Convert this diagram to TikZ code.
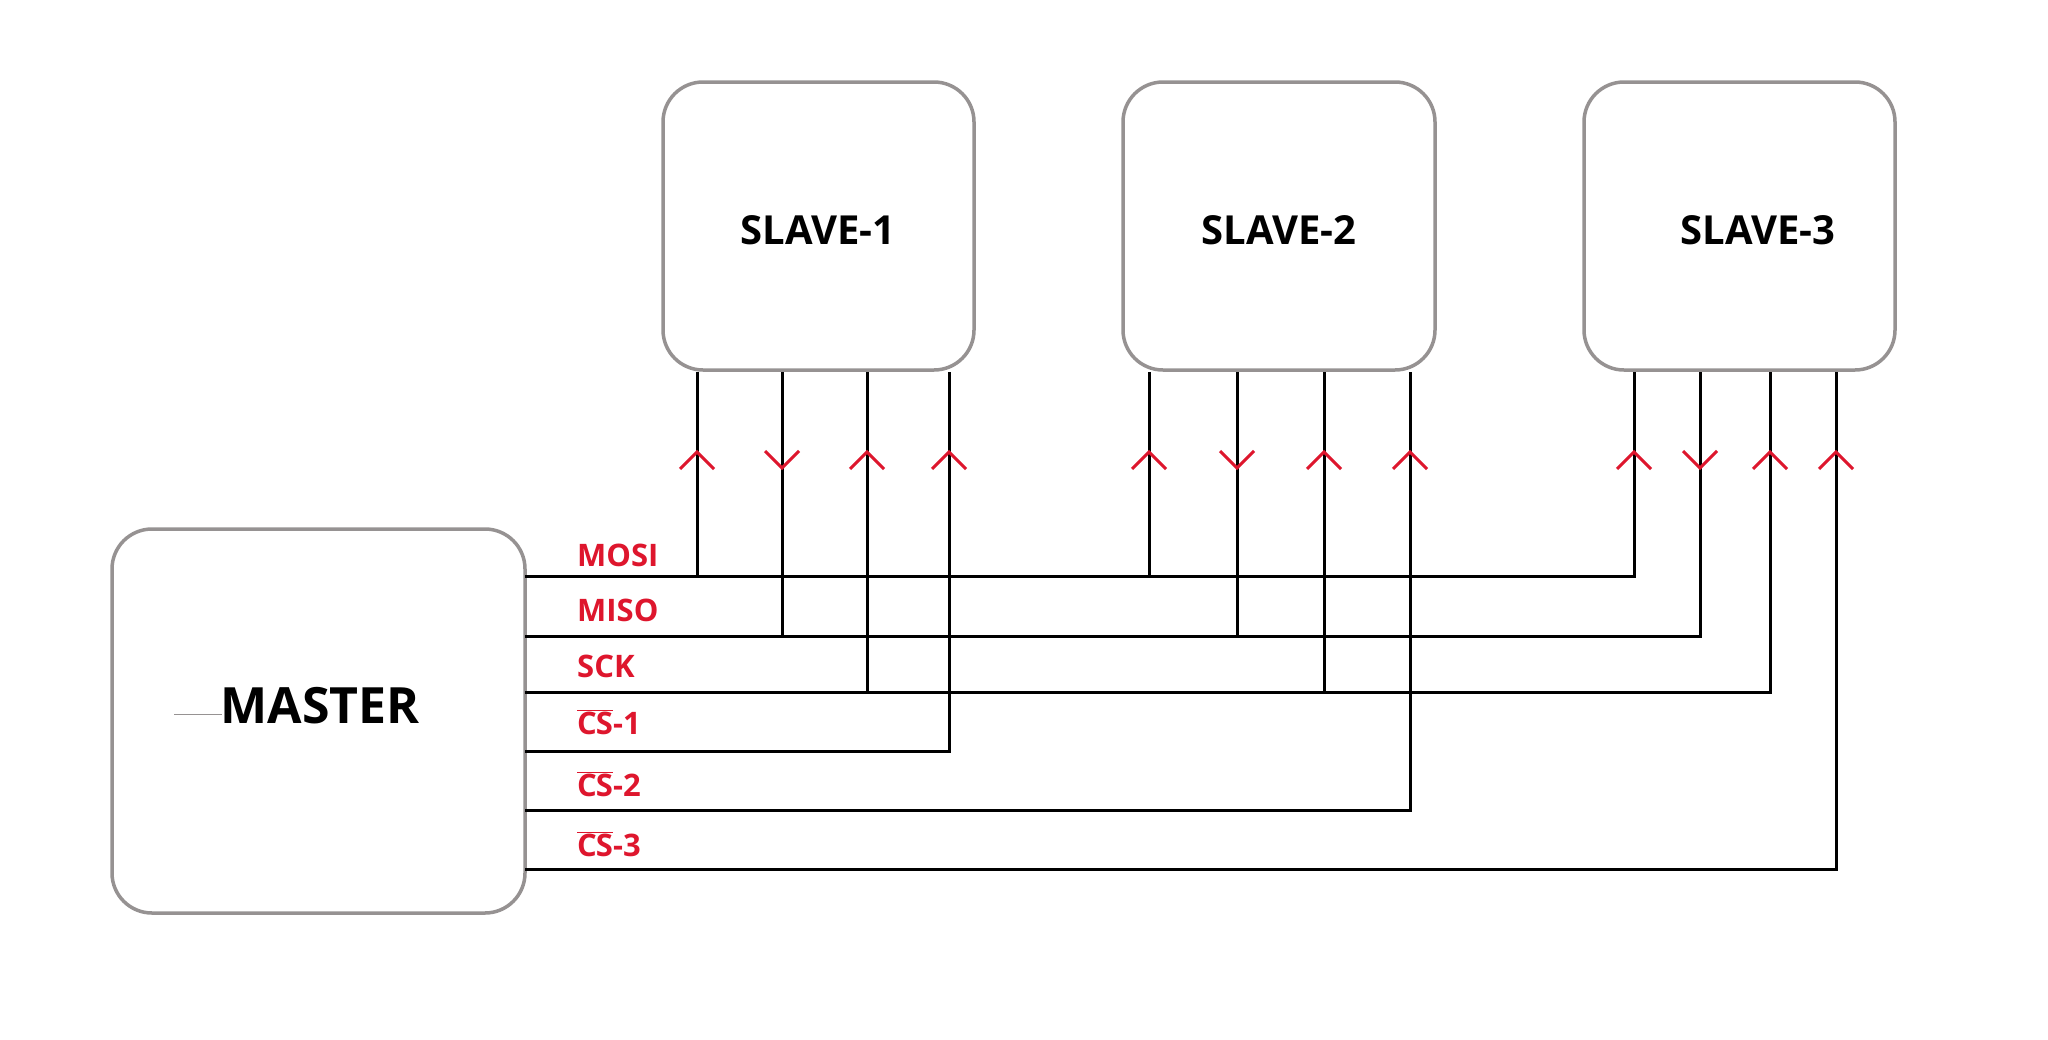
\documentclass[tikz,border=0pt]{standalone}
\usepackage{fontspec}
\setmainfont{Open Sans}
\definecolor{sigred}{RGB}{222,22,45}
\definecolor{boxgray}{RGB}{150,146,146}
\begin{document}
\begin{tikzpicture}[x=1pt,y=-1pt,
  box/.style={draw=boxgray,line width=3.5pt,rounded corners=40pt,fill=white},
  wire/.style={line width=3pt,black},
  lbl/.style={text=sigred,font=\bfseries\fontsize{31}{31}\selectfont,anchor=west,inner sep=0pt},
  btxt/.style={font=\bfseries\fontsize{40}{40}\selectfont},
  chev/.style={sigred,line width=3pt}]
\useasboundingbox (0,0) rectangle (2048,1039);
\fill[white] (0,0) rectangle (2048,1039);
\draw[box] (112,529) rectangle (525,913);
\draw[box] (663,82) rectangle (974,370);
\draw[box] (1123,82) rectangle (1435,370);
\draw[box] (1584,82) rectangle (1895,370);
\node[font=\bfseries\fontsize{50}{50}\selectfont] (m) at (320,706) {MASTER};
\draw[boxgray,line width=1pt] (174,714) -- (222,714);
\node[btxt] (s1) at (818,230) {SLAVE-1};
\node[btxt] (s2) at (1279,230) {SLAVE-2};
\node[btxt] (s3) at (1758,230) {SLAVE-3};
% bus lines
\draw[wire] (525,576) -- (1634,576) -- (1634,372);
\draw[wire] (525,636) -- (1700,636) -- (1700,372);
\draw[wire] (525,692) -- (1770,692) -- (1770,372);
\draw[wire] (525,751) -- (949,751) -- (949,372);
\draw[wire] (525,810) -- (1410,810) -- (1410,372);
\draw[wire] (525,869) -- (1836,869) -- (1836,372);
% drops
\foreach \x/\y in {697/576,782/636,867/692,1149/576,1237/636,1324/692}
  \draw[wire] (\x,\y) -- (\x,372);
% chevrons
\foreach \x in {697,867,949,1149,1324,1410,1634,1770,1836}
  \draw[chev] (\x-17,469) -- (\x,452) -- (\x+17,469);
\foreach \x in {782,1237,1700}
  \draw[chev] (\x-17,451) -- (\x,468) -- (\x+17,451);
% labels
\node[lbl] (l1) at (577,555) {MOSI};
\node[lbl] (l2) at (577,610) {MISO};
\node[lbl] (l3) at (577,666) {SCK};
\node[lbl] (l4) at (577,722) {$\overline{\mbox{C\kern-1pt S}}$-1};
\node[lbl] (l5) at (577,784) {$\overline{\mbox{C\kern-1pt S}}$-2};
\node[lbl] (l6) at (577,844) {$\overline{\mbox{C\kern-1pt S}}$-3};
\end{tikzpicture}
\end{document}
